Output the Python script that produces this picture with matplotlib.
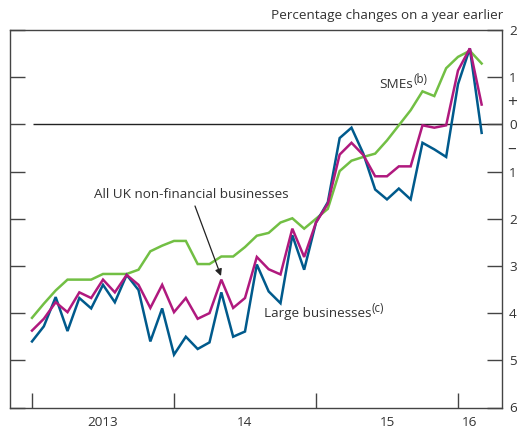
import matplotlib
matplotlib.use("Agg")
import matplotlib.pyplot as plt

plt.rcParams['font.family'] = ['Open Sans', 'DejaVu Sans']

# Monthly, Jan 2013 (index 0) to Mar 2016 (index 38)
months = list(range(39))
smes = [-4.10, -3.80, -3.52, -3.29, -3.29, -3.29, -3.17, -3.17, -3.17, -3.08,
        -2.69, -2.57, -2.47, -2.47, -2.96, -2.96, -2.80, -2.80, -2.60, -2.36,
        -2.30, -2.08, -1.99, -2.21, -2.00, -1.79, -0.99, -0.77, -0.69, -0.62,
        -0.34, -0.02, 0.30, 0.70, 0.60, 1.19, 1.43, 1.56, 1.29]
large = [-4.60, -4.28, -3.66, -4.38, -3.68, -3.90, -3.40, -3.77, -3.19, -3.51,
         -4.60, -3.90, -4.88, -4.50, -4.76, -4.62, -3.56, -4.50, -4.39, -2.97,
         -3.54, -3.79, -2.35, -3.08, -2.08, -1.65, -0.29, -0.07, -0.62, -1.38,
         -1.59, -1.36, -1.59, -0.39, -0.53, -0.69, 0.85, 1.61, -0.18]
allnfb = [-4.37, -4.12, -3.77, -3.98, -3.56, -3.68, -3.29, -3.56, -3.19, -3.40,
          -3.89, -3.40, -3.98, -3.68, -4.12, -4.00, -3.29, -3.89, -3.68, -2.81,
          -3.07, -3.18, -2.21, -2.81, -2.08, -1.68, -0.64, -0.39, -0.65, -1.10,
          -1.10, -0.89, -0.89, -0.02, -0.07, -0.02, 1.14, 1.61, 0.42]

year_ticks = [0, 12, 24, 36]
year_label_pos = [6, 18, 30, 37]
year_labels = ['2013', '14', '15', '16']
y_ticks = [-6, -5, -4, -3, -2, -1, 0, 1, 2]
y_labels = ['6', '5', '4', '3', '2', '1', '0', '1', '2']
sign_pos = [-0.5, 0.5]
sign_labels = ['\u2013', '+']

W, H = 517, 430
fig = plt.figure(figsize=(W / 100, H / 100), dpi=100)
ax = fig.add_axes([10 / W, (H - 407.5) / H, 492 / W, 377.5 / H])

green = '#72bf44'
magenta = '#b0197e'
blue = '#005a8c'
txt = '#333333'
spc = '#444444'
FS = 9.7

ax.hlines(0, 0.1, 41, color='#222222', lw=1.0, zorder=1)
ax.plot(months, smes, color=green, lw=1.8, zorder=2, solid_joinstyle='miter')
ax.plot(months, large, color=blue, lw=1.8, zorder=3, solid_joinstyle='miter')
ax.plot(months, allnfb, color=magenta, lw=1.8, zorder=4, solid_joinstyle='miter')

ax.set_xlim(-1.86, 39.72)
ax.set_ylim(-6, 2)

for s in ax.spines.values():
    s.set_color(spc)
    s.set_linewidth(1.0)

ax.set_yticks(y_ticks)
ax.set_yticklabels(y_labels)
ax.set_yticks(sign_pos, minor=True)
ax.set_yticklabels(sign_labels, minor=True)
ax.tick_params(axis='y', which='major', direction='in', left=True, right=True,
               labelleft=False, labelright=True, length=11, width=1.0,
               color=spc, labelsize=FS, labelcolor=txt, pad=5)
ax.tick_params(axis='y', which='minor', direction='in', left=False, right=True,
               labelleft=False, labelright=True, length=0,
               labelsize=12.5, labelcolor=txt, pad=4)

ax.set_xticks(year_ticks)
ax.set_xticklabels([])
ax.set_xticks(year_label_pos, minor=True)
ax.set_xticklabels(year_labels, minor=True)
ax.tick_params(axis='x', which='major', direction='in', length=11, width=1.0,
               color=spc, bottom=True, top=False)
ax.tick_params(axis='x', which='minor', length=0, labelsize=FS,
               labelcolor=txt, pad=6)


def fxy(px, py):
    return px / W, 1 - py / H


x, y = fxy(503, 15)
fig.text(x, y, 'Percentage changes on a year earlier',
         ha='right', va='center', fontsize=FS, color=txt)

# Series labels
x, y = fxy(413, 85)
t1 = fig.text(x, y, 'SMEs', ha='right', va='center', fontsize=FS, color=txt)
ax.annotate('(b)', xy=(1, 0.45), xycoords=t1, ha='left', va='bottom',
            fontsize=8.3, color=txt)

x, y = fxy(372, 314)
t2 = fig.text(x, y, 'Large businesses', ha='right', va='center', fontsize=FS,
              color=txt)
ax.annotate('(c)', xy=(1, 0.45), xycoords=t2, ha='left', va='bottom',
            fontsize=8.3, color=txt)

x, y = fxy(191, 194)
fig.text(x, y, 'All UK non-financial businesses', ha='center', va='center',
         fontsize=FS, color=txt)
ax.annotate('', xy=fxy(221, 276), xycoords='figure fraction',
            xytext=fxy(195, 206), textcoords='figure fraction',
            arrowprops=dict(arrowstyle='-|>', color='#222222', lw=0.9,
                            mutation_scale=10, shrinkA=0, shrinkB=0))

fig.savefig('out.png', dpi=100)
